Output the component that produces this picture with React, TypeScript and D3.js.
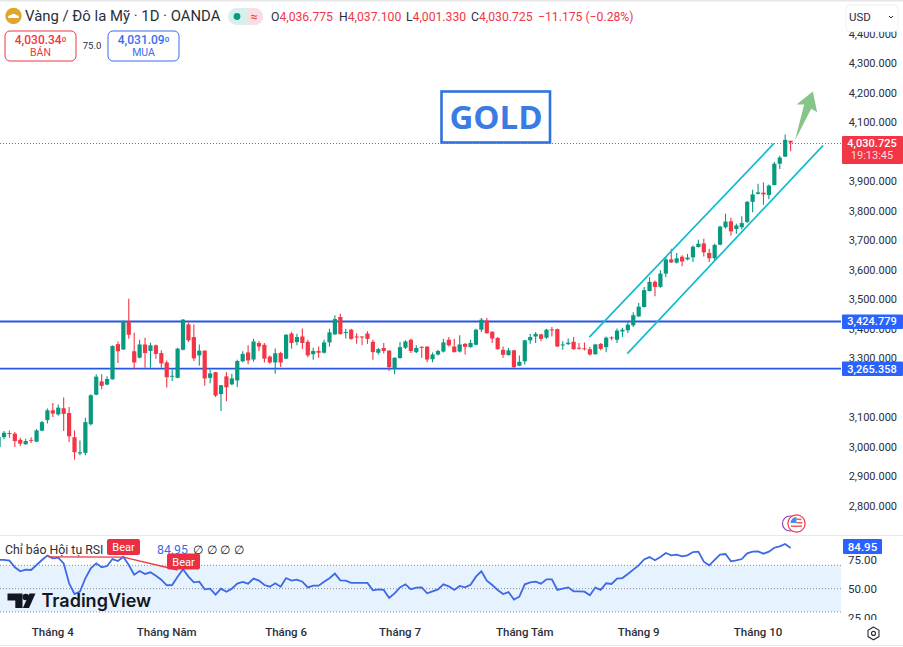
import * as d3 from "d3"

const opens = [3000,3033,3047,3045,3024,3009,3024,3018,3055,3091,
  3124,3110,3131,3115,3033,2978,2980,3077,3177,3222,
  3211,3229,3348,3330,3425,3324,3302,3347,3325,3344,
  3318,3286,3239,3234,3329,3415,3372,3310,3326,3234,
  3253,3179,3239,3212,3225,3290,3320,3296,3352,3346,
  3306,3286,3318,3299,3384,3355,3374,3356,3314,3325,
  3319,3354,3381,3440,3387,3397,3374,3374,3384,3356,
  3319,3335,3326,3265,3301,3336,3363,3321,3339,3340,
  3297,3313,3323,3363,3340,3323,3349,3338,3346,3397,
  3428,3390,3369,3329,3311,3327,3275,3290,3361,3374,
  3381,3370,3398,3399,3344,3348,3356,3336,3334,3331,
  3314,3349,3338,3371,3363,3391,3395,3412,3442,3474,
  3528,3559,3542,3587,3635,3624,3644,3635,3642,3677,
  3689,3657,3639,3685,3744,3764,3738,3744,3762,3830,
  3857,3861,3853,3887,3959,3983,4036.775]

const highs = [3040,3054,3056,3051,3031,3028,3033,3060,3088,3130,
  3149,3144,3167,3135,3056,3022,3099,3178,3246,3246,
  3239,3344,3357,3428,3502,3387,3363,3370,3353,3347,
  3327,3293,3262,3336,3433,3421,3415,3347,3327,3262,
  3254,3210,3253,3248,3295,3324,3344,3366,3359,3352,
  3310,3333,3322,3382,3390,3383,3401,3363,3336,3340,
  3363,3400,3446,3451,3400,3400,3385,3374,3392,3363,
  3336,3352,3327,3304,3355,3361,3366,3344,3341,3340,
  3320,3329,3366,3372,3366,3378,3352,3363,3400,3437,
  3437,3392,3372,3340,3335,3329,3310,3363,3383,3389,
  3383,3400,3406,3401,3358,3367,3372,3352,3354,3338,
  3349,3352,3374,3375,3401,3404,3427,3456,3487,3542,
  3575,3564,3598,3643,3671,3657,3649,3654,3682,3702,
  3705,3671,3688,3749,3790,3776,3756,3781,3833,3871,
  3891,3896,3889,3965,3986,4058,4037.1]

const lows = [2995,3026,3031,3000,3003,3007,3013,3016,3053,3079,
  3101,3106,3054,3017,2957,2972,2972,3073,3175,3195,
  3209,3228,3284,3329,3366,3263,3300,3268,3268,3299,
  3268,3201,3223,3233,3327,3355,3291,3275,3207,3216,
  3169,3122,3155,3209,3203,3287,3280,3289,3324,3286,
  3282,3248,3271,3298,3333,3344,3332,3304,3295,3302,
  3316,3340,3380,3381,3367,3363,3349,3344,3349,3295,
  3313,3316,3257,3246,3299,3332,3318,3318,3302,3287,
  3287,3310,3320,3340,3320,3320,3313,3336,3344,3389,
  3383,3352,3329,3302,3309,3266,3273,3279,3349,3352,
  3358,3366,3374,3338,3329,3345,3329,3329,3327,3310,
  3312,3327,3321,3361,3352,3372,3386,3406,3440,3472,
  3526,3510,3539,3575,3623,3621,3612,3632,3626,3675,
  3645,3626,3632,3683,3739,3716,3722,3736,3758,3795,
  3855,3820,3839,3885,3941,3982,4001.33]

const closes = [3034,3048,3044,3020,3011,3020,3021,3056,3084,3124,
  3113,3133,3112,3036,2982,2982,3084,3175,3238,3207,
  3230,3342,3324,3426,3380,3286,3347,3318,3344,3315,
  3283,3236,3241,3333,3431,3361,3300,3326,3232,3249,
  3174,3209,3202,3232,3291,3315,3293,3357,3340,3299,
  3286,3317,3286,3380,3352,3372,3352,3310,3325,3319,
  3354,3388,3433,3382,3389,3366,3372,3371,3366,3321,
  3331,3325,3270,3302,3338,3357,3325,3335,3337,3296,
  3313,3325,3354,3344,3321,3347,3339,3352,3397,3431,
  3385,3367,3331,3312,3327,3270,3288,3361,3372,3383,
  3366,3397,3396,3340,3347,3353,3331,3334,3331,3313,
  3347,3332,3370,3369,3394,3397,3414,3446,3475,3531,
  3559,3542,3587,3635,3625,3639,3628,3641,3678,3688,
  3659,3639,3684,3746,3763,3730,3750,3758,3830,3855,
  3862,3855,3885,3959,3980,4040,4030.725]

const rsiValues = [74.6,74.6,74,68.3,64.9,66.3,66,70.3,74.6,78.3,
  76,76.6,71.7,54.6,45.4,47.4,58.9,67.4,71.7,68.3,
  69.4,75.4,73.7,77.4,70.3,62,65.1,62.6,64,61.1,
  57.7,52.9,53.1,60.3,66.6,60.3,55.4,56,49.4,50,
  44.9,50,47.4,50,54.3,55.7,54.3,58.6,56.9,53.1,
  51.7,54.6,51.7,59.1,56.9,57.7,56,51.1,52.6,52.6,
  56,58.9,62.9,57.1,56.9,54.9,54.9,54.9,54.9,48.6,
  49.4,48.9,42,46,51.1,53.7,49.4,50.9,51.1,46,
  47.7,49.4,53.7,52,
  48.9,52.3,51.1,53.4,60.3,64.9,56.9,53.1,48.9,45.4,
  47.1,40.6,43.1,53.7,55.4,56,54.3,58,58,48.9,
  50,51.1,47.7,47.7,47.4,44.3,50.9,48.9,54.6,54,
  58.6,59.1,62.6,66.3,70,75.1,77.1,74.3,77.1,80.6,
  78.6,79.1,77.7,78.6,81.4,81.7,73.1,70,74.6,79.1,
  79.7,73.4,74.3,75.4,80.3,81.7,82,80,81.7,85.1,
  86.3,88.3,84.95]

const priceTicks = [4400,4300,4200,4100,3900,3800,3700,3600,3500,3400,3300,3100,3000,2900,2800]
const rsiTicks = [75,50,25]
const rsiBands = [70,50,30]
const levels = [3424.779,3265.358]
const lastPrice = 4030.725
const lastRsi = 84.95

const monthLabels = ["Tháng 4","Tháng Năm","Tháng 6","Tháng 7","Tháng Tám","Tháng 9","Tháng 10"]
const monthIndex = [10,31,53,74,97,118,140]

// drawn lines, [candle index, price]
const channelUpper = [[108.9,3372],[142.9,4027]]
const channelLower = [[115.9,3316],[152,4021]]
const arrowShape = [[146.8,4038],[148.5,4160],[147.1,4160],[150.1,4204],[150.9,4133],[149.8,4145]]
const bearLines = [[9.2,77.3],[23,77],[33,66]]

const GREEN = "#089981"
const RED = "#f23645"
const BLUE = "#2457e6"
const FONT = "Roboto, 'Liberation Sans', sans-serif"

const W = 903
const H = 647
const axisX = 841

const x = d3.scaleLinear().domain([0, 146]).range([-1.425, 790.6])
const y = d3.scaleLinear().domain([2800, 4400]).range([506, 33.5])
const yRsi = d3.scaleLinear().domain([25, 75]).range([617.8, 559.5])
const fmt = d3.format(",.3f")

const rsiLine = d3.line<number>().x((_, i) => x(i)).y((d) => yRsi(d))
const chartLine = d3.line<number[]>().x((d) => x(d[0])).y((d) => y(d[1]))
const bearPath = d3.line<number[]>().x((d) => x(d[0])).y((d) => yRsi(d[1]))

function Candles() {
  const bw = 4.2
  return (
    <g>
      {opens.map((o, i) => {
        const c = closes[i]
        const col = c >= o ? GREEN : RED
        const top = y(Math.max(o, c))
        const h = Math.max(y(Math.min(o, c)) - top, 1)
        return (
          <g key={i}>
            <line x1={x(i)} x2={x(i)} y1={y(highs[i])} y2={y(lows[i])} stroke={col} strokeWidth={1.1} />
            <rect x={x(i) - bw / 2} y={top} width={bw} height={h} fill={col} />
          </g>
        )
      })}
    </g>
  )
}

function PriceBox({ bx, color, price, sub, label }: { bx: number; color: string; price: string; sub: string; label: string }) {
  return (
    <g fontFamily={FONT} fill={color} textAnchor="middle">
      <rect x={bx} y={31} width={71} height={30} rx={5} fill="#fff" stroke={color} strokeWidth={1} />
      <text x={bx + 35.5} y={44} fontSize={12} fontWeight={500}>
        {price}
        <tspan fontSize={8} dy={-2}>{sub}</tspan>
      </text>
      <text x={bx + 35.5} y={56} fontSize={10.5}>{label}</text>
    </g>
  )
}

export default function App() {
  const headerStats = [
    { px: 271, k: "O", v: "4,036.775" },
    { px: 339, k: "H", v: "4,037.100" },
    { px: 406, k: "L", v: "4,001.330" },
    { px: 471, k: "C", v: "4,030.725" },
  ]
  const lastY = Math.round(y(lastPrice)) + 0.5
  return (
    <div style={{ width: W, height: H }}>
      <style>{`body{margin:0;background:#fff}svg{display:block}`}</style>
      <svg width={W} height={H} viewBox={`0 0 ${W} ${H}`} fontFamily={FONT}>
        <defs>
          <clipPath id="mainPane"><rect x={0} y={0} width={axisX} height={535} /></clipPath>
          <clipPath id="rsiPane"><rect x={0} y={536} width={W} height={84} /></clipPath>
        </defs>
        <rect width={W} height={H} fill="#fff" />
        <rect x={0} y={0} width={W} height={1.5} fill="#e6e6e6" />
        <line x1={0} x2={W} y1={535.5} y2={535.5} stroke="#e8e8e8" />
        <line x1={0} x2={W} y1={645.5} y2={645.5} stroke="#e8e8e8" />

        {/* price pane */}
        <g clipPath="url(#mainPane)">
          <line x1={0} x2={axisX} y1={lastY} y2={lastY} stroke={RED} strokeWidth={1} strokeDasharray="1 2" />
          {levels.map((l) => (
            <line key={l} x1={0} x2={axisX} y1={y(l)} y2={y(l)} stroke={BLUE} strokeWidth={1.8} />
          ))}
          <Candles />
          <path d={chartLine(channelUpper) ?? ""} stroke="#12bcd0" strokeWidth={1.7} fill="none" />
          <path d={chartLine(channelLower) ?? ""} stroke="#12bcd0" strokeWidth={1.7} fill="none" />
          <path d={(chartLine(arrowShape) ?? "") + "Z"} fill="#86c58a" />
        </g>

        {/* GOLD box */}
        <rect x={441.5} y={91.5} width={108.5} height={51} fill="#fff" stroke="#3373dd" strokeWidth={2.6} />
        <text x={496} y={129} textAnchor="middle" fontFamily="'Open Sans', sans-serif" fontWeight={700} fontSize={33} fill="#3b7be4">GOLD</text>

        {/* header */}
        <circle cx={13.5} cy={16} r={8.2} fill="#dfa52c" />
        <path d="M8 18 a3 3 0 0 1 3 -3 a3 3 0 0 1 5 0 a3 3 0 0 1 3 3 z" fill="#fff" />
        <text x={25} y={21} fontSize={14.9} fill="#2a2e39">Vàng / Đô la Mỹ · 1D · OANDA</text>
        <rect x={228} y={8} width={35} height={17} rx={8.5} fill="#d8f0ec" />
        <path d="M247 8 h7.5 a8.5 8.5 0 0 1 0 17 h-7.5 z" fill="#fbdde6" />
        <circle cx={237} cy={16.5} r={3.4} fill={GREEN} />
        <text x={254} y={21} fontSize={13} fill={RED} textAnchor="middle">≈</text>
        <g fontSize={12.2}>
          {headerStats.map((s) => (
            <text key={s.k} x={s.px} y={21} fill="#2a2e39">
              {s.k}
              <tspan fill={RED}>{s.v}</tspan>
            </text>
          ))}
          <text x={538} y={21} fill={RED}>−11.175 (−0.28%)</text>
        </g>
        <PriceBox bx={5} color={RED} price="4,030.34" sub="0" label="BÁN" />
        <text x={92} y={49} textAnchor="middle" fontSize={9.5} fill="#2a2e39">75.0</text>
        <PriceBox bx={108} color="#3a6df0" price="4,031.09" sub="0" label="MUA" />

        {/* price axis */}
        <g fontSize={11} fill="#2a2e39" textAnchor="end">
          {priceTicks.map((t) => (
            <text key={t} x={897} y={y(t) + 4}>{fmt(t)}</text>
          ))}
        </g>
        <rect x={846} y={5} width={52} height={26.5} rx={4} fill="#fff" stroke="#f1f1f1" />
        <text x={849} y={21} fontSize={11.5} fill="#2a2e39">USD</text>
        <path d="M893 16 l2 2 l2 -2" stroke="#2a2e39" strokeWidth={1} fill="none" transform="translate(-4,0)" />
        <rect x={842} y={136} width={61} height={28} rx={1} fill={RED} />
        <text x={872} y={147} textAnchor="middle" fontSize={11} fontWeight={500} fill="#fff">{fmt(lastPrice)}</text>
        <text x={872} y={159} textAnchor="middle" fontSize={11} fill="#ffd9dd">19:13:45</text>
        {levels.map((l) => (
          <g key={l}>
            <rect x={842} y={y(l) - 7} width={61} height={14.5} rx={1} fill="#2962ff" />
            <text x={872} y={y(l) + 4} textAnchor="middle" fontSize={11} fontWeight={500} fill="#fff">{fmt(l)}</text>
          </g>
        ))}

        {/* rsi pane */}
        <rect x={0} y={yRsi(70)} width={axisX} height={yRsi(30) - yRsi(70)} fill="#e6f2fd" />
        {rsiBands.map((b) => (
          <line key={b} x1={0} x2={axisX} y1={yRsi(b)} y2={yRsi(b)} stroke="#8a8f9c" strokeWidth={1} strokeDasharray="1 2" />
        ))}
        <path d={rsiLine(rsiValues) ?? ""} fill="none" stroke="#3d68e6" strokeWidth={1.8} />
        <path d={bearPath(bearLines) ?? ""} fill="none" stroke={RED} strokeWidth={1.3} />
        <text x={5} y={554} fontSize={12.3} fill="#2a2e39">Chỉ báo Hội tụ RSI</text>
        <text x={107} y={554} fontSize={12.3} fill="#8a8f9c">Close</text>
        <text x={157} y={554} fontSize={12.3} fill="#3d68e6">84.95</text>
        <text x={193} y={554} fontSize={12.3} fontWeight={500} fill="#131722" letterSpacing={3.5}>∅∅∅∅</text>
        <rect x={107} y={539} width={33} height={16} rx={2} fill="#ea2f42" />
        <text x={123.5} y={551} textAnchor="middle" fontSize={11} fill="#fff">Bear</text>
        <rect x={167} y={553.5} width={33} height={16} rx={2} fill="#ea2f42" />
        <text x={183.5} y={565.5} textAnchor="middle" fontSize={11} fill="#fff">Bear</text>

        <g clipPath="url(#rsiPane)" fontSize={11.5} fill="#2a2e39" textAnchor="end">
          {rsiTicks.map((t) => (
            <text key={t} x={877} y={yRsi(t) + 4}>{t.toFixed(2)}</text>
          ))}
        </g>
        <rect x={843} y={539} width={39} height={15} rx={1} fill="#2962ff" />
        <text x={862.5} y={550.5} textAnchor="middle" fontSize={11.5} fontWeight={500} fill="#fff">{lastRsi}</text>

        {/* tradingview mark */}
        <g fill="#131722">
          <path d="M7.5 593.5 h15 v14.5 h-7.2 v-7.6 h-7.8 z" />
          <circle cx={25.8} cy={597} r={3.3} />
          <path d="M29.5 593.5 h6 l-6.5 14.5 h-6.2 z" />
        </g>
        <text x={41.5} y={607} fontFamily="Inter, sans-serif" fontWeight={600} fontSize={18} fill="#131722">TradingView</text>

        {/* news / economic event icon */}
        <circle cx={790} cy={523.5} r={7.5} fill="#fff" stroke="#8e3fc0" strokeWidth={1.2} />
        <circle cx={796.5} cy={523.5} r={8.6} fill="#fff" stroke={RED} strokeWidth={1.2} />
        <path d="M790.5 523 a6 6 0 0 1 6 -6 v6 z" fill="#3f8ee0" />
        <path d="M796.5 518.5 h5 v1.6 h-5 z M796.5 522 h6 v1.6 h-6 z M791 525.5 h11 v1.6 h-11 z" fill="#e8606c" />

        {/* time axis */}
        <g fontSize={11.5} fontWeight={500} fill="#2a2e39" textAnchor="middle">
          {monthLabels.map((m, i) => (
            <text key={m} x={x(monthIndex[i])} y={636}>{m}</text>
          ))}
        </g>
        <path d="M873.5 627 l5.5 3.2 v6.4 l-5.5 3.2 l-5.5 -3.2 v-6.4 z" fill="none" stroke="#2a2e39" strokeWidth={1.1} />
        <circle cx={873.5} cy={633.4} r={2} fill="none" stroke="#2a2e39" strokeWidth={1.1} />
      </svg>
    </div>
  )
}
